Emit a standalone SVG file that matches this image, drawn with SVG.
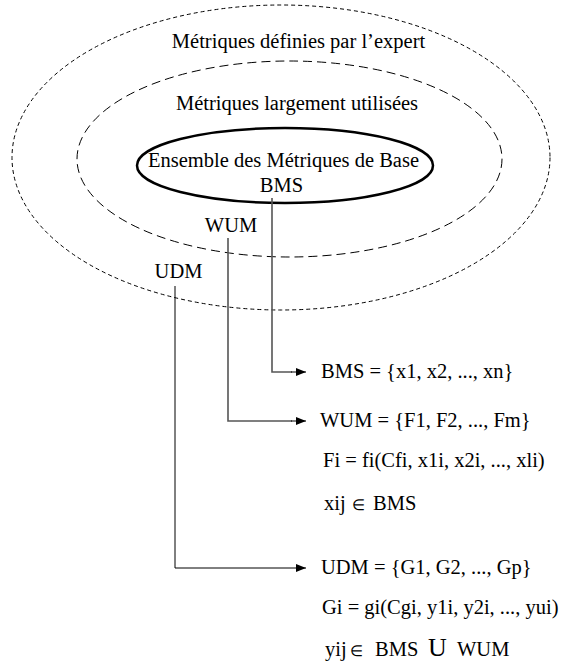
<svg xmlns="http://www.w3.org/2000/svg" width="561" height="665" viewBox="0 0 561 665">
<style>
text{font-family:"Liberation Serif","Times New Roman",serif;font-size:20.5px;fill:#000}
.c{text-anchor:middle}
.e{fill:none;stroke:#000}
.ln{fill:none;stroke:#000;stroke-width:1}
.gl{fill:none;stroke:#555;stroke-width:1.6}
.el{font-size:15px}
</style>
<defs>
<marker id="ah" viewBox="0 0 10 8" refX="10" refY="4" markerWidth="10" markerHeight="8" markerUnits="userSpaceOnUse" orient="auto">
<path d="M0,0 L10,4 L0,8 Z" fill="#000"/>
</marker>
</defs>
<rect width="561" height="665" fill="#fff"/>
<g id="udm-set">
<ellipse class="e" cx="281" cy="157.5" rx="269" ry="152.5" stroke-width="1" stroke-dasharray="4,3"/>
<text class="c" x="298.5" y="48">Métriques définies par l’expert</text>
<text class="c" x="178.5" y="278">UDM</text>
</g>
<g id="wum-set">
<ellipse class="e" cx="289.5" cy="159" rx="212.5" ry="98" stroke-width="1" stroke-dasharray="9,5"/>
<text class="c" x="297" y="110">Métriques largement utilisées</text>
<text class="c" x="231" y="232">WUM</text>
</g>
<g id="bms-set">
<ellipse class="e" cx="285" cy="165.5" rx="148" ry="37.5" stroke-width="2.5"/>
<text class="c" x="283.5" y="167">Ensemble des Métriques de Base</text>
<text class="c" x="281.5" y="192">BMS</text>
</g>
<g id="connectors">
<polyline class="gl" points="272,198 272,372 292,372"/>
<line class="ln" x1="291" y1="372" x2="306" y2="372" marker-end="url(#ah)"/>
<polyline class="gl" points="228,238 228,421 292,421"/>
<line class="ln" x1="291" y1="421" x2="306" y2="421" marker-end="url(#ah)"/>
<polyline class="ln" points="175,286 175,568 306,568" marker-end="url(#ah)"/>
</g>
<g id="bms-def">
<text x="321" y="378">BMS = {x1, x2, ..., xn}</text>
</g>
<g id="wum-def">
<text x="320" y="427">WUM = {F1, F2, ..., Fm}</text>
<text x="323" y="467">Fi = fi(Cfi, x1i, x2i, ..., xli)</text>
<text y="510"><tspan x="324">xij</tspan><tspan class="el" x="352">∈</tspan><tspan x="373">BMS</tspan></text>
</g>
<g id="udm-def">
<text x="321" y="574">UDM = {G1, G2, ..., Gp}</text>
<text x="322" y="614">Gi = gi(Cgi, y1i, y2i, ..., yui)</text>
<text y="656"><tspan x="325">yij</tspan><tspan class="el" x="350">∈</tspan><tspan x="375">BMS</tspan><tspan x="428" font-size="26">U</tspan><tspan x="457">WUM</tspan></text>
</g>
</svg>
